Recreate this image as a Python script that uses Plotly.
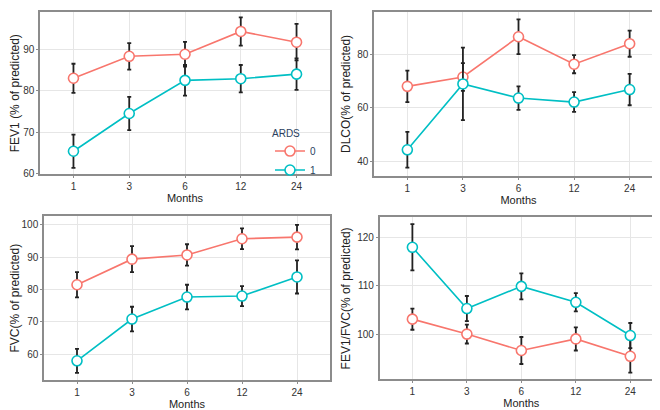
import plotly.graph_objects as go

# Months (categorical x)
months = ['1', '3', '6', '12', '24']

# FEV1 (% of predicted)
fev1_0 = [83.0, 88.3, 88.8, 94.3, 91.7]
fev1_0_err = [3.5, 3.2, 3.0, 3.4, 4.4]
fev1_1 = [65.4, 74.5, 82.5, 82.9, 84.0]
fev1_1_err = [4.0, 4.0, 3.7, 3.3, 3.8]

# DLCO (% of predicted)
dlco_0 = [68.1, 71.6, 86.7, 76.4, 84.1]
dlco_0_err = [5.9, 5.2, 6.5, 3.4, 4.9]
dlco_1 = [44.3, 69.0, 63.7, 62.2, 66.9]
dlco_1_err = [6.7, 13.6, 4.4, 3.7, 5.9]

# FVC (% of predicted)
fvc_0 = [81.5, 89.4, 90.7, 95.7, 96.2]
fvc_0_err = [3.9, 4.0, 3.3, 3.2, 3.8]
fvc_1 = [58.0, 70.9, 77.7, 78.0, 83.9]
fvc_1_err = [3.7, 3.8, 3.8, 3.1, 5.1]

# FEV1/FVC (% of predicted)
ratio_0 = [103.1, 100.0, 96.6, 99.0, 95.4]
ratio_0_err = [2.2, 1.95, 2.8, 2.4, 3.4]
ratio_1 = [118.0, 105.3, 109.9, 106.6, 99.7]
ratio_1_err = [4.8, 2.6, 2.7, 1.9, 2.6]

RED = '#F8766D'
CYAN = '#00BFC4'
W, H = 660, 410


def px_dom(a, b, total):
    return [a / total, b / total]


def py_dom(top, bottom):
    return [1 - bottom / H, 1 - top / H]


panels = [
    # (x axis domain, y axis domain, y range, dtick, title, data)
    (px_dom(32, 322, W), py_dom(4, 168.5), [59.8, 99], 10, 'FEV1 (% of predicted)',
     (fev1_0, fev1_0_err, fev1_1, fev1_1_err)),
    (px_dom(366, 655, W), py_dom(4, 170), [34.5, 96], 20, 'DLCO(% of predicted)',
     (dlco_0, dlco_0_err, dlco_1, dlco_1_err)),
    (px_dom(36, 322, W), py_dom(211, 376.5), [52.1, 102.6], 10, 'FVC(% of predicted)',
     (fvc_0, fvc_0_err, fvc_1, fvc_1_err)),
    (px_dom(371.7, 655, W), py_dom(212, 376), [90.6, 124.2], 10, 'FEV1/FVC(% of predicted)',
     (ratio_0, ratio_0_err, ratio_1, ratio_1_err)),
]

fig = go.Figure()
layout = {}
for i, (xd, yd, yr, dt, ytitle, data) in enumerate(panels, start=1):
    xa = 'x' if i == 1 else 'x%d' % i
    ya = 'y' if i == 1 else 'y%d' % i
    v0, e0, v1, e1 = data
    for name, vals, errs, col in [('0', v0, e0, RED), ('1', v1, e1, CYAN)]:
        fig.add_trace(go.Scatter(
            x=months, y=vals, name=name, mode='lines+markers',
            xaxis=xa, yaxis=ya, showlegend=(i == 1),
            line=dict(color=col, width=1.6),
            marker=dict(symbol='circle', size=10, color='white',
                        line=dict(color=col, width=1.6)),
            error_y=dict(type='data', array=errs, visible=True,
                         color='#222222', thickness=1.8, width=2),
        ))
    axis_common = dict(showline=True, linecolor='#8c8c8c', linewidth=1.5, mirror=True,
                       showgrid=True, gridcolor='#e6e6e6', gridwidth=1,
                       ticks='outside', ticklen=2, tickcolor='#8c8c8c',
                       tickfont=dict(size=10, color='#333333'), zeroline=False)
    layout['xaxis' if i == 1 else 'xaxis%d' % i] = dict(
        axis_common, domain=xd, anchor=ya, type='category',
        range=[-0.6, 4.6], categoryorder='array', categoryarray=months,
        title=dict(text='Months', font=dict(size=11, color='#222222'), standoff=0))
    layout['yaxis' if i == 1 else 'yaxis%d' % i] = dict(
        axis_common, domain=yd, anchor=xa, range=yr, dtick=dt,
        title=dict(text=ytitle, font=dict(size=12, color='#222222'), standoff=4))

fig.update_layout(**layout)
fig.update_layout(
    width=W, height=H, margin=dict(l=0, r=0, t=0, b=0),
    paper_bgcolor='white', plot_bgcolor='white',
    font=dict(family='Liberation Sans, Arial, sans-serif'),
    legend=dict(title=dict(text='ARDS', font=dict(size=10)),
                x=262 / W, y=1 - 117 / H, xanchor='left', yanchor='top',
                font=dict(size=10), bgcolor='rgba(0,0,0,0)',
                tracegroupgap=0, itemwidth=30),
)

fig.write_html("out.html")
